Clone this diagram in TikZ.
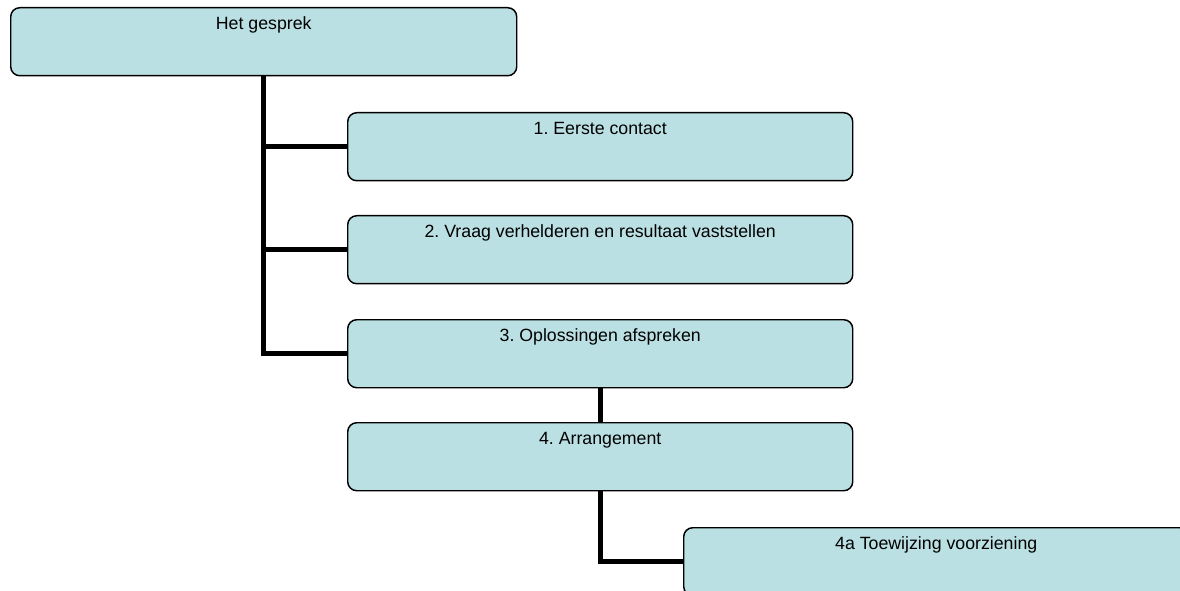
\documentclass[tikz,border=0pt]{standalone}
\usepackage{fontspec}
\setmainfont{Liberation Sans}
\frenchspacing
\definecolor{boxfill}{RGB}{187,224,227}
\tikzset{
  stepbox/.style={draw=black,line width=1.1pt,fill=boxfill,rounded corners=6.75pt,
    anchor=north west,minimum width=378.75pt,inner xsep=0pt,inner ysep=0pt,
    text height=16.5pt,text depth=34.5pt,font=\fontsize{13.3}{15}\selectfont},
  link/.style={line width=3.75pt,black}
}
\begin{document}
\begin{tikzpicture}[x=0.75pt,y=-0.75pt]
      \def\bx{347};
      \useasboundingbox (0,0) rectangle (1180,591);
      \clip (0,0) rectangle (1180,591);
      \node[stepbox,minimum width=379.5pt] (top) at (10,7) {Het gesprek};
      \node[stepbox] (eerste) at (\bx,112) {1. Eerste contact};
      \node[stepbox] (vraag) at (\bx,215) {2. Vraag verhelderen en resultaat vaststellen};
      \node[stepbox] (oplos) at (\bx,319) {3. Oplossingen afspreken};
      \node[stepbox] (arr) at (\bx,422) {4. Arrangement};
      \node[stepbox] (toew) at (683,527) {4a Toewijzing voorziening};
      \draw[link] (top.south) |- (oplos.west);
      \draw[link] (top.south |- eerste.west) -- (eerste.west);
      \draw[link] (top.south |- vraag.west) -- (vraag.west);
      \draw[link] (oplos.south) -- (arr.north);
      \draw[link] (arr.south) |- (toew.west);
    \end{tikzpicture}
\end{document}
